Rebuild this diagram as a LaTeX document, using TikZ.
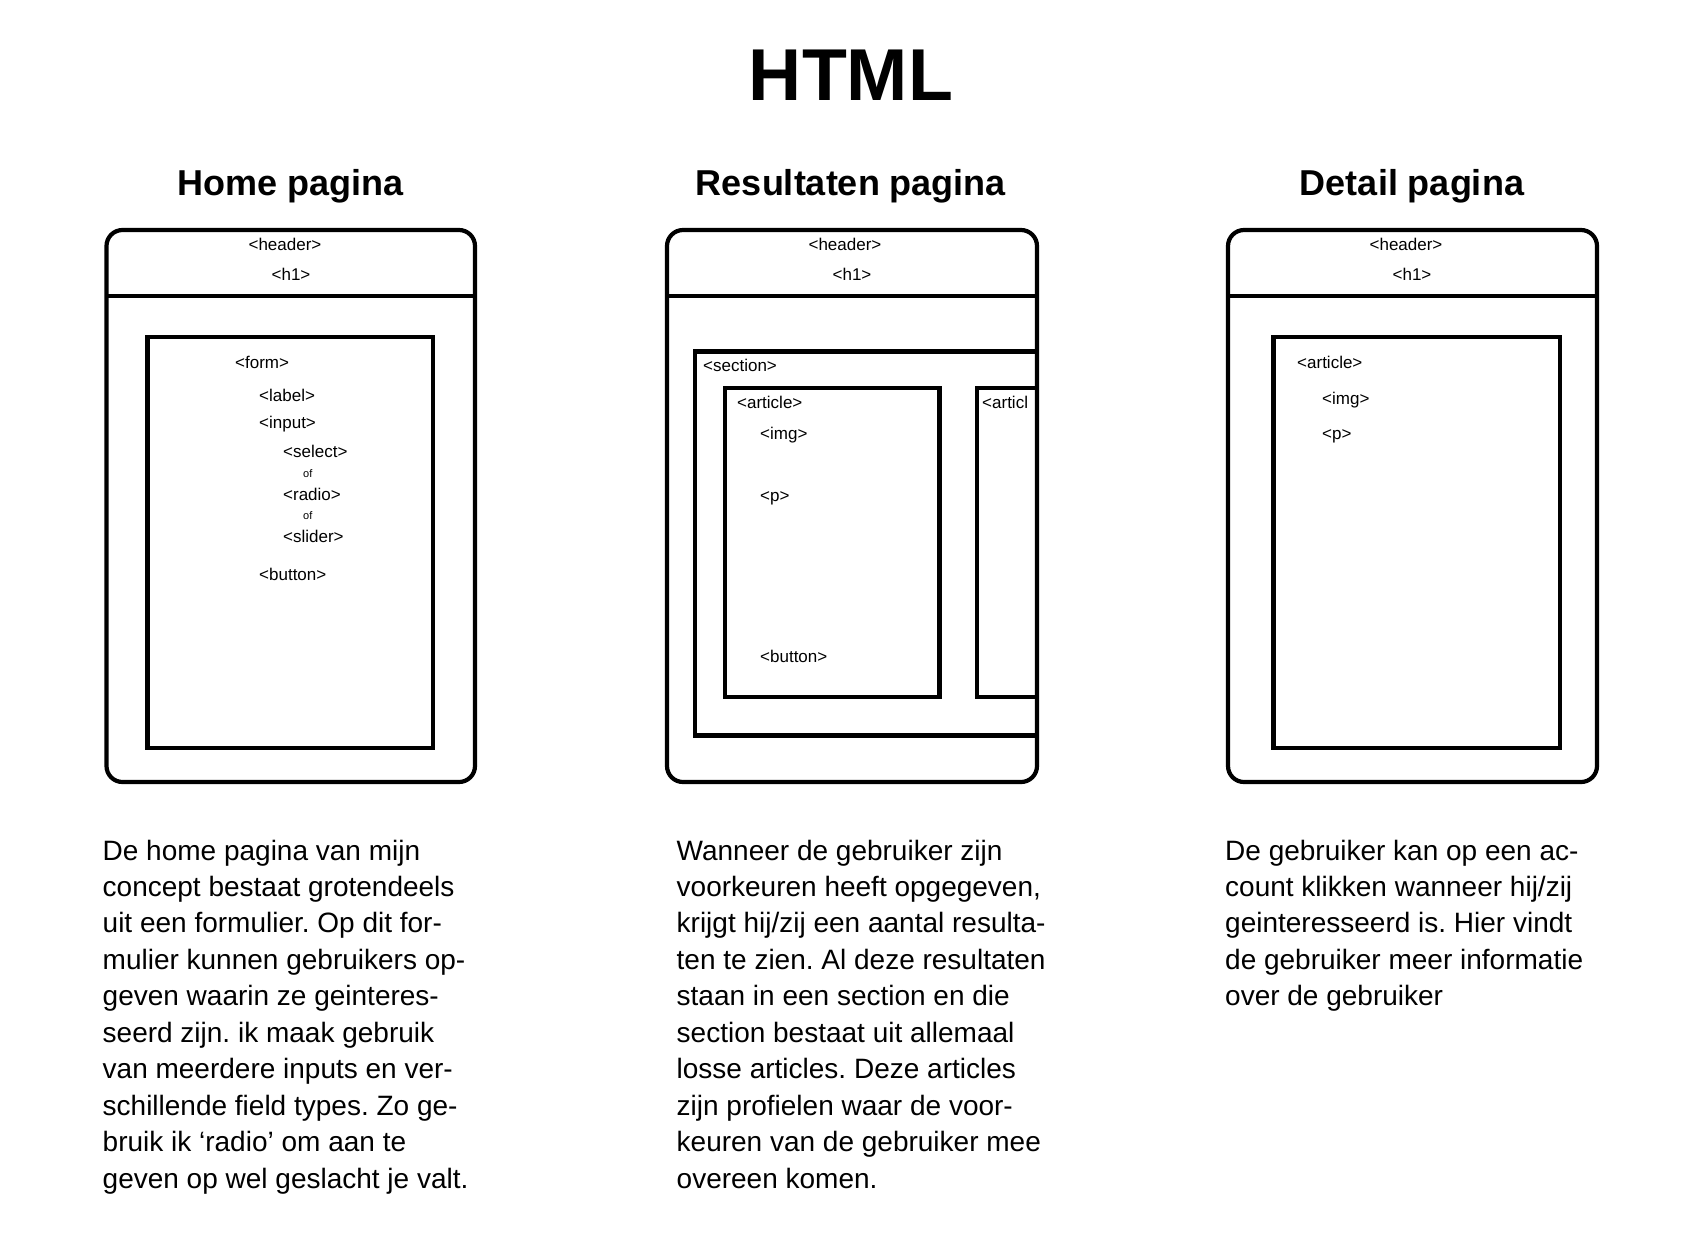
\documentclass[tikz,border=0pt]{standalone}
\usepackage{fontspec}
\setmainfont{Liberation Sans}
\frenchspacing
\begin{document}
\begin{tikzpicture}[x=1pt,y=-1pt,
  frame/.style={line width=4.2pt, rounded corners=16pt},
  wire/.style={line width=4.2pt},
  tag/.style={inner sep=0pt, anchor=base west, font=\fontsize{17}{20}\selectfont},
  tagc/.style={inner sep=0pt, anchor=base, font=\fontsize{17}{20}\selectfont},
  tiny/.style={inner sep=0pt, anchor=base west, font=\fontsize{11}{13}\selectfont},
  body/.style={inner sep=0pt, anchor=base west, font=\fontsize{28}{36}\selectfont},
  heading/.style={inner sep=0pt, anchor=base, font=\fontsize{36}{40}\selectfont\bfseries},
  title/.style={inner sep=0pt, anchor=base, font=\fontsize{73.5}{80}\selectfont\bfseries},
  ]
\useasboundingbox (0,0) rectangle (1692,1254);
\fill[white] (0,0) rectangle (1692,1254);

% title and column headings
\node[title] (title) at (851,100) {HTML};
\node[heading] (h-home) at (291,195.7) {Home pagina};
\node[heading] (h-res) at (851,195.7) {Resultaten pagina};
\node[heading] (h-det) at (1412,195.7) {Detail pagina};

% ---------- Home pagina ----------
\draw[frame] (106.5,230) rectangle (475,782);
\draw[wire] (106.5,296) -- (475,296);
\draw[wire] (147.5,337) rectangle (433,748);
\node[tagc] (home-header) at (285,250) {<header>};
\node[tagc] (home-h1) at (291,280) {<h1>};
\node[tag] (form) at (235,368) {<form>};
\node[tag] (label) at (259,401) {<label>};
\node[tag] (input) at (259,428) {<input>};
\node[tag] (select) at (283,457) {<select>};
\node[tiny] (of1) at (303,477) {of};
\node[tag] (radio) at (283,500) {<radio>};
\node[tiny] (of2) at (303,519) {of};
\node[tag] (slider) at (283,542) {<slider>};
\node[tag] (home-button) at (259,580) {<button>};

% ---------- Resultaten pagina ----------
\draw[frame] (667,230) rectangle (1037,782);
\draw[wire] (667,296) -- (1037,296);
\draw[wire] (1037,351.5) -- (695,351.5) -- (695,735.5) -- (1037,735.5);
\draw[wire] (725,388) rectangle (939.5,697);
\draw[wire] (1037,388) -- (977,388) -- (977,697) -- (1037,697);
\node[tagc] (res-header) at (845,250) {<header>};
\node[tagc] (res-h1) at (852,280) {<h1>};
\node[tag] (section) at (703,371.5) {<section>};
\node[tag] (art1) at (737,408.5) {<article>};
\node[tag] (res-img) at (760,439.5) {<img>};
\node[tag] (res-p) at (760,501) {<p>};
\node[tag] (res-button) at (760,662) {<button>};
\node[tag] (art2) at (982,408.5) {<articl};

% ---------- Detail pagina ----------
\draw[frame] (1228,230) rectangle (1597,782);
\draw[wire] (1228,296) -- (1597,296);
\draw[wire] (1273.5,337) rectangle (1560,748);
\node[tagc] (det-header) at (1406,250) {<header>};
\node[tagc] (det-h1) at (1412,280) {<h1>};
\node[tag] (det-art) at (1297,368.5) {<article>};
\node[tag] (det-img) at (1322,404) {<img>};
\node[tag] (det-p) at (1322,439) {<p>};

% ---------- descriptions ----------
\foreach \ln [count=\i from 0] in {
  De home pagina van mijn,
  concept bestaat grotendeels,
  uit een formulier. Op dit for-,
  mulier kunnen gebruikers op-,
  geven waarin ze geinteres-,
  seerd zijn. ik maak gebruik,
  van meerdere inputs en ver-,
  schillende field types. Zo ge-,
  bruik ik ‘radio’ om aan te,
  geven op wel geslacht je valt.}
  \node[body] (home-l\i) at (102.5,{860+36.45*\i}) {\ln};

\foreach \ln [count=\i from 0] in {
  Wanneer de gebruiker zijn,
  {voorkeuren heeft opgegeven,},
  krijgt hij/zij een aantal resulta-,
  ten te zien. Al deze resultaten,
  staan in een section en die,
  section bestaat uit allemaal,
  losse articles. Deze articles,
  zijn profielen waar de voor-,
  keuren van de gebruiker mee,
  overeen komen.}
  \node[body] (res-l\i) at (676.5,{860+36.45*\i}) {\ln};

\foreach \ln [count=\i from 0] in {
  De gebruiker kan op een ac-,
  count klikken wanneer hij/zij,
  geinteresseerd is. Hier vindt,
  de gebruiker meer informatie,
  over de gebruiker}
  \node[body] (det-l\i) at (1225,{860+36.45*\i}) {\ln};
\end{tikzpicture}
\end{document}
